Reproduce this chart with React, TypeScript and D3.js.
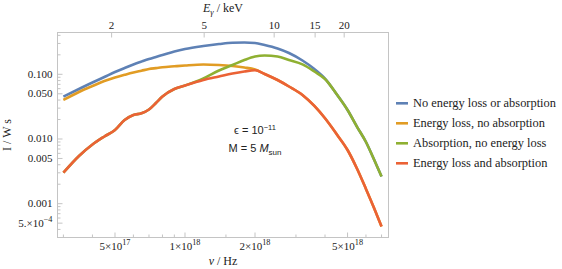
import React from 'react';
import * as d3 from 'd3';

const W = 562;
const H = 269;

// frequency grid (Hz)
const nu = [
  3e17, 3.5e17, 4e17, 4.5e17, 5e17, 5.5e17, 6e17, 6.5e17, 7e17, 7.5e17, 8e17, 9e17,
  1e18, 1.2e18, 1.4e18, 1.6e18, 1.8e18, 2e18, 2.2e18, 2.5e18, 2.8e18, 3.2e18, 3.6e18,
  4e18, 4.5e18, 5e18, 5.5e18, 6e18, 6.5e18, 7e18,
];

// intensity, W s
const noLossNoAbs = [
  0.0451, 0.0593, 0.0747, 0.0908, 0.1085, 0.1252, 0.1417, 0.1572, 0.1724, 0.1857, 0.1987, 0.2251,
  0.246, 0.2738, 0.2939, 0.3078, 0.31, 0.3046, 0.2837, 0.2505, 0.2134, 0.1634, 0.1207,
  0.086, 0.0487, 0.0281, 0.0153, 0.00899, 0.00482, 0.00263,
];
const lossNoAbs = [
  0.0401, 0.0533, 0.0659, 0.0788, 0.0892, 0.0982, 0.1066, 0.1137, 0.1207, 0.1247, 0.1283, 0.1329,
  0.1368, 0.1417, 0.1392, 0.1343, 0.1274, 0.1186, 0.1011, 0.0816, 0.0648, 0.0479, 0.0324,
  0.0209, 0.01174, 0.00676, 0.00344, 0.00169, 0.000858, 0.000444,
];
const absNoLoss = [
  0.00301, 0.00546, 0.00822, 0.01093, 0.01378, 0.01966, 0.02349, 0.02495, 0.02858, 0.03601, 0.04539, 0.05928,
  0.06712, 0.0861, 0.1145, 0.1392, 0.1663, 0.1884, 0.1953, 0.1884, 0.1663, 0.1427, 0.1105,
  0.0846, 0.0487, 0.0281, 0.0153, 0.00899, 0.00482, 0.00263,
];
const lossAndAbs = [
  0.00301, 0.00546, 0.00822, 0.01093, 0.01378, 0.01966, 0.02349, 0.02495, 0.02858, 0.03601, 0.04539, 0.05928,
  0.06712, 0.08163, 0.09247, 0.1029, 0.1105, 0.1153, 0.1011, 0.0816, 0.0648, 0.0479, 0.0324,
  0.0209, 0.01174, 0.00676, 0.00344, 0.00169, 0.000858, 0.000444,
];

const seriesNames = [
  'No energy loss or absorption',
  'Energy loss, no absorption',
  'Absorption, no energy loss',
  'Energy loss and absorption',
];
const seriesValues = [noLossNoAbs, lossNoAbs, absNoLoss, lossAndAbs];
const seriesColors = ['#5E81B5', '#E19C24', '#8FB032', '#EB6235'];

const nuTicks = [5e17, 1e18, 2e18, 5e18];
const nuTickLabels = ['5×10^17', '1×10^18', '2×10^18', '5×10^18'];
const nuMinor = [3e17, 4e17, 6e17, 7e17, 8e17, 9e17, 1.5e18, 3e18, 4e18, 6e18, 7e18];
const keVTicks = [2, 5, 10, 15, 20];
const HZ_PER_KEV = 2.418e17;
const iTicks = [0.1, 0.05, 0.01, 0.005, 0.001, 5e-4];
const iTickLabels = ['0.100', '0.050', '0.010', '0.005', '0.001', '5.×10^−4'];
const iMinor = [0.4, 0.3, 0.2, 0.09, 0.08, 0.07, 0.06, 0.04, 0.03, 0.02, 0.009, 0.008, 0.007, 0.006, 0.004, 0.003, 0.002, 9e-4, 8e-4, 7e-4, 6e-4, 4e-4];

const left = 57.5;
const right = 388.5;
const top = 32.5;
const bottom = 237.5;

const serif = "'Liberation Serif', 'Times New Roman', serif";
const sans = "'Liberation Sans', Arial, sans-serif";
const frameColor = '#c4c4c4';
const textColor = '#222';
const tickSize = 11;

const x = d3.scaleLog().domain([2.83e17, 7.5e18]).range([left, right]);
const y = d3.scaleLog().domain([3.0e-4, 0.443]).range([bottom, top]);

const line = d3
  .line<[number, number]>()
  .x((d) => x(d[0]))
  .y((d) => y(d[1]))
  .curve(d3.curveMonotoneX);

// "a^b" -> a with superscript b
function Sup({ label, size }: { label: string; size: number }) {
  const [base, exp] = label.split('^');
  return (
    <>
      {base}
      {exp && (
        <tspan dy={-size * 0.42} fontSize={size * 0.75}>
          {exp}
        </tspan>
      )}
    </>
  );
}

const App: React.FC = () => {
  return (
    <svg
      width={W}
      height={H}
      style={{ position: 'absolute', left: 0, top: 0, background: '#fff' }}
    >
      {/* frame */}
      <rect
        x={left}
        y={top}
        width={right - left}
        height={bottom - top}
        fill="none"
        stroke={frameColor}
        strokeWidth={1}
      />

      {/* left ticks */}
      {iTicks.map((t, i) => (
        <g key={'yt' + i}>
          <line x1={left} x2={left + 5} y1={y(t)} y2={y(t)} stroke={frameColor} />
          <text
            x={left - 5}
            y={y(t) + 3.5}
            textAnchor="end"
            fontFamily={serif}
            fontSize={tickSize}
            fill={textColor}
          >
            <Sup label={iTickLabels[i]} size={tickSize} />
          </text>
        </g>
      ))}
      {iMinor.map((t, i) => (
        <line key={'ym' + i} x1={left} x2={left + 3} y1={y(t)} y2={y(t)} stroke={frameColor} />
      ))}

      {/* bottom ticks */}
      {nuTicks.map((t, i) => (
        <g key={'xt' + i}>
          <line x1={x(t)} x2={x(t)} y1={bottom} y2={bottom - 5} stroke={frameColor} />
          <text
            x={x(t)}
            y={bottom + 12}
            textAnchor="middle"
            fontFamily={serif}
            fontSize={tickSize}
            fill={textColor}
          >
            <Sup label={nuTickLabels[i]} size={tickSize} />
          </text>
        </g>
      ))}
      {nuMinor.map((t, i) => (
        <line key={'xm' + i} x1={x(t)} x2={x(t)} y1={bottom} y2={bottom - 3} stroke={frameColor} />
      ))}

      {/* top ticks (photon energy) */}
      {keVTicks.map((e, i) => (
        <g key={'et' + i}>
          <line
            x1={x(e * HZ_PER_KEV)}
            x2={x(e * HZ_PER_KEV)}
            y1={top}
            y2={top + 5}
            stroke={frameColor}
          />
          <text
            x={x(e * HZ_PER_KEV)}
            y={top - 4}
            textAnchor="middle"
            fontFamily={serif}
            fontSize={tickSize}
            fill={textColor}
          >
            {e}
          </text>
        </g>
      ))}

      {/* axis titles */}
      <text
        x={(left + right) / 2}
        y={12}
        textAnchor="middle"
        fontFamily={serif}
        fontSize={12}
        fill={textColor}
      >
        <tspan fontStyle="italic">E</tspan>
        <tspan dy={2.5} fontSize={8.5} fontStyle="italic">γ</tspan>
        <tspan dy={-2.5}> / keV</tspan>
      </text>
      <text
        x={(left + right) / 2}
        y={265}
        textAnchor="middle"
        fontFamily={serif}
        fontSize={12}
        fill={textColor}
      >
        <tspan fontStyle="italic">ν</tspan> / Hz
      </text>
      <text
        transform={`translate(10.5, ${(top + bottom) / 2}) rotate(-90)`}
        textAnchor="middle"
        fontFamily={serif}
        fontSize={12}
        fill={textColor}
      >
        I / W s
      </text>

      {/* curves */}
      <g fill="none" strokeWidth={2.6} strokeLinejoin="round" strokeLinecap="butt">
        {seriesValues.map((vals, i) => (
          <path
            key={'s' + i}
            d={line(nu.map((n, j) => [n, vals[j]] as [number, number])) || ''}
            stroke={seriesColors[i]}
          />
        ))}
      </g>

      {/* annotation */}
      <text x={255} y={134} textAnchor="middle" fontFamily={sans} fontSize={11} fill={textColor}>
        ϵ = 10
        <tspan dy={-4} fontSize={7.5}>−11</tspan>
      </text>
      <text x={255} y={152} textAnchor="middle" fontFamily={sans} fontSize={11} fill={textColor}>
        M = 5 <tspan fontStyle="italic">M</tspan>
        <tspan dy={2.5} fontSize={8}>sun</tspan>
      </text>

      {/* legend */}
      {seriesNames.map((name, i) => (
        <g key={'lg' + i} transform={`translate(396, ${103.3 + i * 20})`}>
          <line x1={0} x2={12} y1={0} y2={0} stroke={seriesColors[i]} strokeWidth={2.6} />
          <text x={17} y={4} fontFamily={serif} fontSize={12.4} fill={textColor}>
            {name}
          </text>
        </g>
      ))}
    </svg>
  );
};

export default App;
